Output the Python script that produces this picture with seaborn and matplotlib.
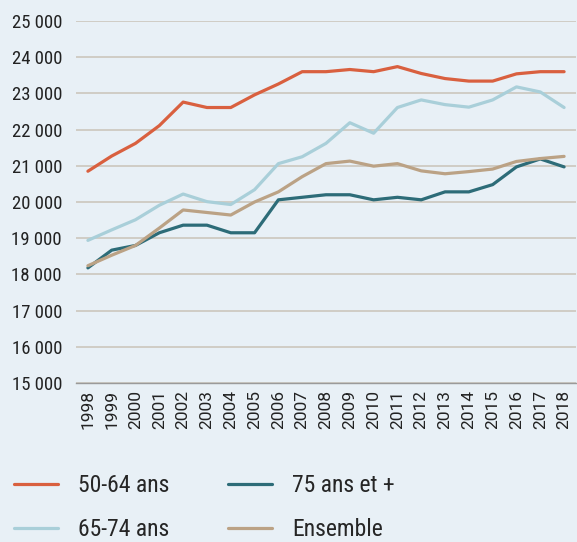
import numpy as np
import pandas as pd
import matplotlib
matplotlib.use("Agg")
import matplotlib.pyplot as plt
import seaborn as sns

# Years and series values
years = list(range(1998, 2019))
ans_50_64 = [20850, 21270, 21620, 22110, 22760, 22610, 22610, 22960, 23260, 23600, 23600,
             23660, 23600, 23740, 23550, 23410, 23340, 23340, 23540, 23600, 23600]
ans_65_74 = [18940, 19230, 19510, 19910, 20220, 20010, 19930, 20340, 21060, 21250, 21620,
             22190, 21900, 22610, 22820, 22690, 22620, 22820, 23180, 23040, 22610]
ans_75_plus = [18180, 18670, 18800, 19150, 19360, 19360, 19150, 19150, 20060, 20130, 20200,
               20200, 20060, 20130, 20060, 20280, 20280, 20480, 20970, 21190, 20970]
ensemble = [18240, 18530, 18800, 19280, 19780, 19710, 19640, 20000, 20280, 20700, 21060,
            21130, 20990, 21060, 20860, 20780, 20840, 20910, 21120, 21200, 21260]

series_names = ["50-64 ans", "65-74 ans", "75 ans et +", "Ensemble"]
colors = ["#D9603F", "#A9CFD9", "#2D6C78", "#BBA285"]
y_ticks = [15000, 16000, 17000, 18000, 19000, 20000, 21000, 22000, 23000, 24000, 25000]

bg = "#E8F0F6"
sns.set_style("white", {"axes.facecolor": bg, "figure.facecolor": bg})
plt.rcParams["font.family"] = ["Roboto Condensed", "Barlow Semi Condensed", "Roboto", "DejaVu Sans"]

# Long-form table for seaborn
df = pd.DataFrame({
    "year": years * 4,
    "pos": list(range(len(years))) * 4,
    "value": ans_50_64 + ans_65_74 + ans_75_plus + ensemble,
    "serie": sum([[n] * len(years) for n in series_names], []),
})

fig = plt.figure(figsize=(5.77, 5.42), dpi=100)
ax = fig.add_axes([76 / 577, 1 - 383 / 542, 500 / 577, (383 - 21) / 542])

sns.lineplot(data=df, x="pos", y="value", hue="serie", hue_order=series_names,
             palette=colors, linewidth=2.3, ax=ax, legend=False)

ax.set_xlim(-0.5, len(years) - 0.5)
ax.set_ylim(15000, 25000)
ax.set_yticks(y_ticks)
ax.set_yticklabels([f"{v // 1000} 000" for v in y_ticks], fontsize=13.5, color="#222222")
ax.yaxis.grid(True, color="#CCC7BD", linewidth=1.2)
ax.set_axisbelow(True)
ax.tick_params(axis="y", length=0, pad=10)

ax.set_xticks(range(len(years)))
ax.set_xticklabels([str(y) for y in years], rotation=90, fontsize=12.5,
                   family=["Roboto", "DejaVu Sans"], color="#222222")
ax.set_xticks(np.arange(-0.5, len(years)), minor=True)
ax.tick_params(axis="x", which="major", length=0, pad=5)
ax.tick_params(axis="x", which="minor", length=6, width=1, color="#9A9A9A", direction="out")
ax.set_xlabel("")
ax.set_ylabel("")

for s in ["top", "right", "left"]:
    ax.spines[s].set_visible(False)
ax.spines["bottom"].set_color("#9A9A9A")
ax.spines["bottom"].set_linewidth(1)

handles = [plt.Line2D([], [], color=c, linewidth=2.3) for c in colors]
fig.legend(handles, series_names, loc="upper left", bbox_to_anchor=(0.024, 0.125),
           ncol=2, frameon=False, fontsize=17, handlelength=1.85, handletextpad=0.85,
           columnspacing=2.5, labelspacing=0.9, borderpad=0, borderaxespad=0)

fig.savefig("out.png", dpi=100, facecolor=bg)
